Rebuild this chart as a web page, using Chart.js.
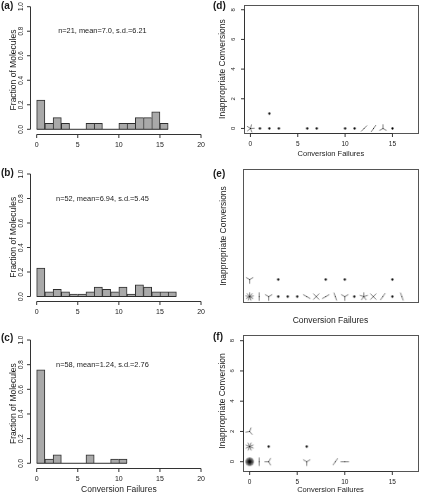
<!DOCTYPE html>
<html>
<head>
<meta charset="utf-8">
<title>Conversion failures</title>
<script src="https://cdn.jsdelivr.net/npm/chart.js@4.4.1/dist/chart.umd.min.js"></script>
<style>
  body { margin: 0; background: #fff; }
  #wrap { position: relative; width: 423px; height: 495px; }
  #wrap canvas { position: absolute; left: 0; top: 0; }
</style>
</head>
<body>
<div id="wrap">
  <canvas id="chartA" width="423" height="495"></canvas>
  <canvas id="chartB" width="423" height="495"></canvas>
  <canvas id="chartC" width="423" height="495"></canvas>
  <canvas id="chartD" width="423" height="495"></canvas>
  <canvas id="chartE" width="423" height="495"></canvas>
  <canvas id="chartF" width="423" height="495"></canvas>
</div>
<script>
// fraction of molecules in each 1-wide bin, starting at 0 failures
const binsA = [0.238, 0.048, 0.095, 0.048, 0, 0, 0.048, 0.048, 0, 0, 0.048, 0.048, 0.095, 0.095, 0.143, 0.048];
const binsB = [0.231, 0.038, 0.058, 0.038, 0.019, 0.019, 0.038, 0.077, 0.058, 0.038, 0.077, 0.019, 0.096, 0.077, 0.038, 0.038, 0.038];
const binsC = [0.759, 0.034, 0.069, 0, 0, 0, 0.069, 0, 0, 0.034, 0.034];
const statsA = 'n=21, mean=7.0, s.d.=6.21';
const statsB = 'n=52, mean=6.94, s.d.=5.45';
const statsC = 'n=58, mean=1.24, s.d.=2.76';

const histTicksX = [0, 5, 10, 15, 20];
const histTicksY = [0, 0.2, 0.4, 0.6, 0.8, 1.0];
const sunTicksX = [0, 5, 10, 15];
const sunTicksY = [0, 2, 4, 6, 8];

// sunflower plots: failures, inappropriate conversions, molecules at that spot
const failD = [0, 1, 2, 2, 3, 6, 7, 10, 11, 12, 13, 14, 15];
const inappD = [0, 0, 0, 1, 0, 0, 0, 0, 0, 0, 0, 0, 0];
const countD = [5, 1, 1, 1, 1, 1, 1, 1, 1, 2, 2, 3, 1];

const failE = [0, 0, 1, 2, 3, 3, 4, 5, 6, 7, 8, 8, 9, 10, 10, 11, 12, 13, 14, 15, 15, 16];
const inappE = [0, 1, 0, 0, 0, 1, 0, 0, 0, 0, 0, 1, 0, 0, 1, 0, 0, 0, 0, 0, 1, 0];
const countE = [9, 3, 2, 3, 1, 1, 1, 1, 2, 4, 2, 1, 2, 3, 1, 1, 5, 4, 2, 1, 1, 2];

const failF = [0, 0, 0, 1, 2, 2, 6, 6, 9, 10];
const inappF = [0, 1, 2, 0, 0, 1, 0, 1, 0, 0];
const countF = [33, 8, 3, 2, 3, 1, 3, 1, 2, 2];

// petal rotation (degrees) so the glyphs face the same way as the original
const turnD = [15, 0, 0, 0, 0, 0, 0, 0, 0, 45, 35, 0, 0];
const turnE = [0, 60, 0, 60, 0, 0, 0, 0, 120, 45, 60, 0, 160, 60, 0, 0, 0, 45, 35, 0, 0, 160];
const turnF = [0, 22, 20, 0, 30, 0, 60, 0, 35, 90];

const FONT = '"Liberation Sans", Arial, sans-serif';
const W = 423, H = 495;

function flower(n, turn) {
    const c = document.createElement('canvas');
    c.width = c.height = 13;
    const g = c.getContext('2d');
    const m = 6.5, petal = 4.2;
    if (n === 1) {
        g.fillStyle = '#000';
        g.beginPath(); g.arc(m, m, 1.15, 0, Math.PI * 2); g.fill();
        return c;
    }
    g.strokeStyle = 'rgba(0,0,0,0.5)';
    g.lineWidth = 1;
    for (let k = 0; k < n; k++) {
        const a = (turn + k * 360 / n) * Math.PI / 180;
        g.beginPath();
        g.moveTo(m, m);
        g.lineTo(m + petal * Math.sin(a), m - petal * Math.cos(a));
        g.stroke();
    }
    g.fillStyle = '#000';
    g.beginPath(); g.arc(m, m, 0.5, 0, Math.PI * 2); g.fill();
    return c;
}

// R-style axes, box and labels, placed through the chart scales
const rAxes = {
    id: 'rAxes',
    afterDraw(chart, args, o) {
        const { ctx, chartArea: ca, scales: { x, y } } = chart;
        ctx.save();
        ctx.strokeStyle = '#333';
        ctx.fillStyle = '#1a1a1a';
        ctx.lineWidth = 1;
        const seg = (x1, y1, x2, y2) => { ctx.beginPath(); ctx.moveTo(x1, y1); ctx.lineTo(x2, y2); ctx.stroke(); };

        if (o.box) {
            ctx.strokeStyle = '#555';
            ctx.strokeRect(Math.round(ca.left) + 0.5, Math.round(ca.top) + 0.5,
                Math.round(ca.right - ca.left), Math.round(ca.bottom - ca.top));
            ctx.strokeStyle = '#333';
        }
        if (o.xTicks) {
            const yb = Math.round(ca.bottom) + 0.5;
            const px = o.xTicks.map(v => x.getPixelForValue(v));
            seg(px[0], yb, px[px.length - 1], yb);
            ctx.font = o.tickFont;
            ctx.textAlign = 'center';
            ctx.textBaseline = 'middle';
            px.forEach((p, i) => {
                seg(p, yb, p, yb + 3.5);
                ctx.fillText(String(o.xTicks[i]), p, yb + o.xGap);
            });
        }
        if (o.yTicks) {
            const xl = Math.round(ca.left) + 0.5;
            const py = o.yTicks.map(v => y.getPixelForValue(v));
            seg(xl, py[0], xl, py[py.length - 1]);
            ctx.font = o.yTickFont || o.tickFont;
            ctx.textAlign = 'center';
            ctx.textBaseline = 'middle';
            py.forEach((p, i) => {
                seg(xl, p, xl - 3.5, p);
                ctx.save();
                ctx.translate(xl - o.yGap, p);
                ctx.rotate(-Math.PI / 2);
                ctx.fillText(o.yFmt ? o.yFmt(o.yTicks[i]) : String(o.yTicks[i]), 0, 0);
                ctx.restore();
            });
        }
        ctx.textAlign = 'center';
        ctx.textBaseline = 'middle';
        if (o.xTitle) {
            ctx.font = o.xTitle.font;
            ctx.fillText(o.xTitle.text, (ca.left + ca.right) / 2, o.xTitle.y);
        }
        if (o.yTitle) {
            ctx.font = '8.5px ' + FONT;
            ctx.save();
            ctx.translate(o.yTitle.x, (ca.top + ca.bottom) / 2 + (o.yTitle.dy || 0));
            ctx.rotate(-Math.PI / 2);
            ctx.fillText(o.yTitle.text, 0, 0);
            ctx.restore();
        }
        if (o.stats) {
            ctx.font = '7.4px ' + FONT;
            ctx.fillText(o.stats, x.getPixelForValue(8), y.getPixelForValue(0.8));
        }
        if (o.tag) {
            ctx.font = 'bold 10px ' + FONT;
            ctx.textAlign = 'left';
            ctx.fillText(o.tag.text, o.tag.x, o.tag.y);
        }
        ctx.restore();
    }
};

function pad(area) {
    return { left: area.left, top: area.top, right: W - area.right, bottom: H - area.bottom };
}

function histChart(id, bins, stats, area, tag, xTitle) {
    const rightBorder = (i) => (i === bins.length - 1 || bins[i] > bins[i + 1]) ? 1 : 0;
    return new Chart(document.getElementById(id), {
        type: 'bar',
        data: {
            datasets: [{
                data: bins.map((v, i) => ({ x: i + 0.5, y: v })),
                backgroundColor: '#a9a9a9',
                borderColor: '#2e2e2e',
                borderWidth: c => ({ top: 1, bottom: 0, left: 1, right: rightBorder(c.dataIndex) }),
                borderSkipped: false,
                barPercentage: 1,
                categoryPercentage: 1,
                grouped: false
            }, {
                type: 'line',
                order: -1,
                data: [{ x: 0, y: 0 }, { x: bins.length, y: 0 }],
                borderColor: '#2e2e2e',
                borderWidth: 1,
                pointRadius: 0
            }]
        },
        options: {
            responsive: false,
            animation: false,
            events: [],
            layout: { padding: pad(area) },
            scales: {
                x: { type: 'linear', min: -0.8, max: 20.8, offset: false, display: false },
                y: { min: -0.04, max: 1.04, display: false }
            },
            plugins: {
                legend: { display: false },
                tooltip: { enabled: false },
                rAxes: {
                    xTicks: histTicksX, yTicks: histTicksY,
                    yFmt: v => v.toFixed(1),
                    tickFont: '7px ' + FONT, yTickFont: '6.3px ' + FONT,
                    xGap: 10.5, yGap: 9.5,
                    yTitle: { text: 'Fraction of Molecules', x: 13.5, dy: 2 },
                    xTitle, stats, tag
                }
            }
        },
        plugins: [rAxes]
    });
}

function sunChart(id, fail, inapp, count, turn, area, yRange, axes) {
    return new Chart(document.getElementById(id), {
        type: 'scatter',
        data: {
            datasets: [{
                data: fail.map((f, i) => ({ x: f, y: inapp[i] })),
                pointStyle: count.map((n, i) => flower(n, turn[i])),
                pointRadius: 3
            }]
        },
        options: {
            responsive: false,
            animation: false,
            events: [],
            layout: { padding: pad(area) },
            scales: {
                x: { type: 'linear', min: -0.7, max: 17.7, display: false },
                y: { type: 'linear', min: yRange[0], max: yRange[1], display: false }
            },
            plugins: {
                legend: { display: false },
                tooltip: { enabled: false },
                rAxes: Object.assign({ box: true, tickFont: '6.5px ' + FONT, yTickFont: '6px ' + FONT, xGap: 11, yGap: 10.8 }, axes)
            }
        },
        plugins: [rAxes]
    });
}

histChart('chartA', binsA, statsA, { left: 30.1, top: 1.8, right: 207.6, bottom: 134.2 },
    { text: '(a)', x: 1, y: 6.7 });
histChart('chartB', binsB, statsB, { left: 30.1, top: 169.1, right: 207.6, bottom: 301.4 },
    { text: '(b)', x: 1, y: 173 });
histChart('chartC', binsC, statsC, { left: 30.1, top: 335.1, right: 207.6, bottom: 468.2 },
    { text: '(c)', x: 1, y: 338.3 },
    { text: 'Conversion Failures', y: 490, font: '8.5px ' + FONT });

sunChart('chartD', failD, inappD, countD, turnD, { left: 243.8, top: 1.8, right: 420.5, bottom: 133.2 }, [-0.32, 8.32], {
    xTicks: sunTicksX, yTicks: sunTicksY,
    xTitle: { text: 'Conversion Failures', y: 153.5, font: '7.5px ' + FONT },
    yTitle: { text: 'Inappropriate Conversions', x: 223 },
    tag: { text: '(d)', x: 213, y: 6.2 }
});
sunChart('chartE', failE, inappE, countE, turnE, { left: 243, top: 169.3, right: 421, bottom: 302.7 }, [-0.36, 7.48], {
    xTitle: { text: 'Conversion Failures', y: 320.7, font: '8.5px ' + FONT },
    yTitle: { text: 'Inappropriate Conversions', x: 224 },
    tag: { text: '(e)', x: 213, y: 174.5 }
});
sunChart('chartF', failF, inappF, countF, turnF, { left: 243, top: 335, right: 421, bottom: 471 }, [-0.615, 8.377], {
    xTicks: sunTicksX, yTicks: sunTicksY,
    xTitle: { text: 'Conversion Failures', y: 490, font: '7.5px ' + FONT },
    yTitle: { text: 'Inappropriate Conversion', x: 223, dy: -2 },
    tag: { text: '(f)', x: 213, y: 337 }
});
</script>
</body>
</html>
